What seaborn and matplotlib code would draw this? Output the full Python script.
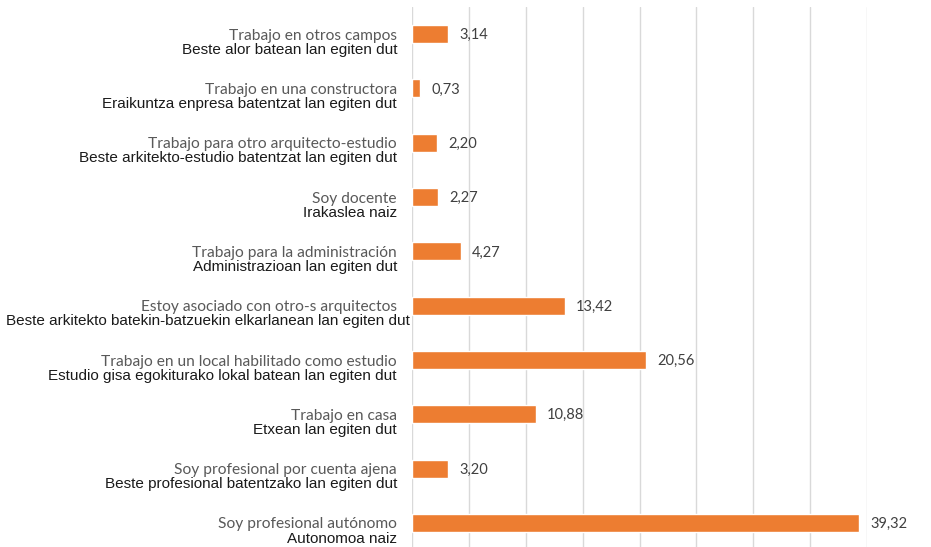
import seaborn as sns
import matplotlib.pyplot as plt
import matplotlib.transforms as mtransforms
import pandas as pd

labels_es = [
    "Trabajo en otros campos",
    "Trabajo en una constructora",
    "Trabajo para otro arquitecto-estudio",
    "Soy docente",
    "Trabajo para la administración",
    "Estoy asociado con otro-s arquitectos",
    "Trabajo en un local habilitado como estudio",
    "Trabajo en casa",
    "Soy profesional por cuenta ajena",
    "Soy profesional autónomo",
]
labels_eu = [
    "Beste alor batean lan egiten dut",
    "Eraikuntza enpresa batentzat lan egiten dut",
    "Beste arkitekto-estudio batentzat lan egiten dut",
    "Irakaslea naiz",
    "Administrazioan lan egiten dut",
    "Beste arkitekto batekin-batzuekin elkarlanean lan egiten dut",
    "Estudio gisa egokiturako lokal batean lan egiten dut",
    "Etxean lan egiten dut",
    "Beste profesional batentzako lan egiten dut",
    "Autonomoa naiz",
]
values = [3.14, 0.73, 2.20, 2.27, 4.27, 13.42, 20.56, 10.88, 3.20, 39.32]

df = pd.DataFrame({"cat": labels_es, "val": values})

sns.set_style("white")
fig = plt.figure(figsize=(9.31, 5.47), dpi=100)
ax = fig.add_axes([412 / 931, 0.0, (867 - 412) / 931, 1 - 7 / 547])

sns.barplot(data=df, x="val", y="cat", orient="h", color="#ED7D31",
            saturation=1, width=0.33, ax=ax)

ax.set_xlim(0, 40)
ax.set_ylim(-0.5 + 540 / 54.3, -0.5)
ax.set_xticks(range(0, 45, 5))
ax.grid(axis="x", color="#D9D9D9", linewidth=1)
ax.set_axisbelow(True)
for s in ax.spines.values():
    s.set_visible(False)
ax.tick_params(left=False, bottom=False, labelbottom=False, labelleft=False)
ax.set_xlabel("")
ax.set_ylabel("")

trans = mtransforms.blended_transform_factory(ax.transAxes, ax.transData)
xoff = -15 / 455
renderer = fig.canvas.get_renderer()
for i, (es, eu, v) in enumerate(zip(labels_es, labels_eu, values)):
    ax.text(xoff, i + 0.03, es, transform=trans, ha="right", va="center",
            fontsize=11.2, color="#595959", family=["Lato", "DejaVu Sans"])
    t = ax.text(xoff, i + 0.29, eu, transform=trans, ha="right", va="center",
                fontsize=11.0, color="#1a1a1a", family=["Liberation Sans", "DejaVu Sans"])
    # too long for the space on the left: let it overflow to the right like the original
    bb = t.get_window_extent(renderer)
    if bb.x0 < 6:
        t.set_x(xoff + (6 - bb.x0) / 455)
    ax.text(v + 1.0, i + 0.02, f"{v:.2f}".replace(".", ","), ha="left", va="center",
            fontsize=10.5, color="#404040", family=["Lato", "DejaVu Sans"])

fig.savefig("out.png", dpi=100)
